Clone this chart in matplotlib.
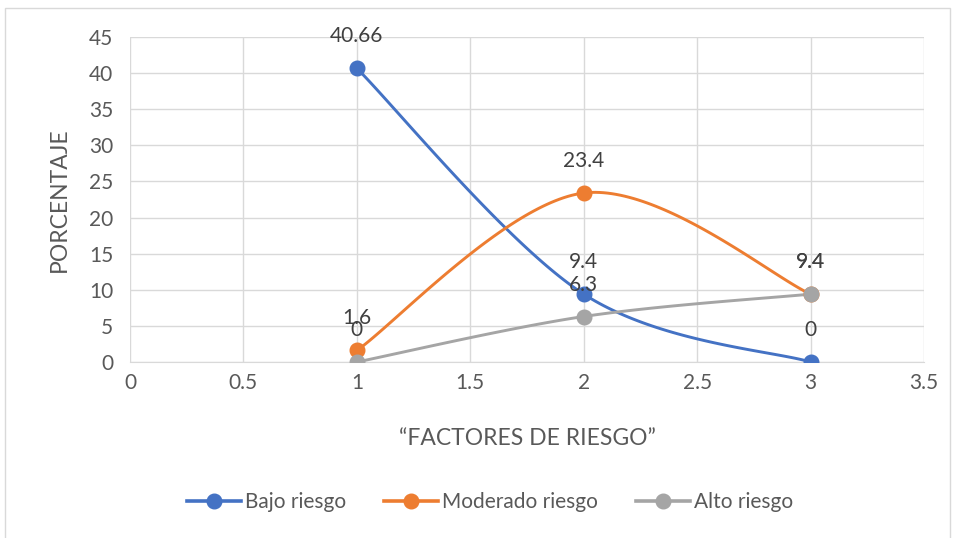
import matplotlib
matplotlib.use("Agg")
import matplotlib.pyplot as plt
import numpy as np
from matplotlib.patches import Rectangle

x_vals = [1, 2, 3]
bajo = [40.66, 9.4, 0]
moderado = [1.6, 23.4, 9.4]
alto = [0, 6.3, 9.4]
series_names = ["Bajo riesgo", "Moderado riesgo", "Alto riesgo"]
colors = ["#4472C4", "#ED7D31", "#A5A5A5"]
x_ticks = [0, 0.5, 1, 1.5, 2, 2.5, 3, 3.5]
y_ticks = [0, 5, 10, 15, 20, 25, 30, 35, 40, 45]

plt.rcParams['font.family'] = ['Lato', 'DejaVu Sans']


def smooth(xs, ys, n=60):
    pts = np.column_stack([xs, ys]).astype(float)
    out = []
    for i in range(len(pts) - 1):
        p0 = pts[i - 1] if i > 0 else pts[i]
        p1 = pts[i]
        p2 = pts[i + 1]
        p3 = pts[i + 2] if i + 2 < len(pts) else pts[i + 1]
        c1 = p1 + (p2 - p0) / 6.0
        c2 = p2 - (p3 - p1) / 6.0
        t = np.linspace(0, 1, n)[:, None]
        seg = ((1 - t) ** 3) * p1 + 3 * ((1 - t) ** 2) * t * c1 + 3 * (1 - t) * t ** 2 * c2 + t ** 3 * p2
        out.append(seg if i == 0 else seg[1:])
    seg = np.vstack(out)
    return seg[:, 0], seg[:, 1]


fig = plt.figure(figsize=(9.58, 5.38), dpi=100)
fig.patches.append(Rectangle((5 / 958, -0.01), 945 / 958, 1 - 8 / 538 + 0.01,
                             transform=fig.transFigure, fill=False,
                             edgecolor="#D9D9D9", linewidth=1))
ax = fig.add_axes([130 / 958, 1 - 362 / 538, (924 - 130) / 958, (362 - 37) / 538])

LW = 2.1
MS = 10.5
FS = 15

for ys, name, c in zip([bajo, moderado, alto], series_names, colors):
    sx, sy = smooth(x_vals, ys)
    ax.plot(sx, sy, color=c, linewidth=LW, zorder=3)
    ax.plot(x_vals, ys, linestyle="none", marker="o", markersize=MS,
            color=c, zorder=4, label=name)

for ys, c in zip([bajo, moderado, alto], colors):
    for xv, yv in zip(x_vals, ys):
        lbl = f"{yv:g}"
        ax.annotate(lbl, (xv, yv), xytext=(0, 23), textcoords="offset points",
                    ha="center", va="center", fontsize=FS, color="#404040",
                    zorder=5)

ax.set_xlim(0, 3.5)
ax.set_ylim(0, 45)
ax.set_xticks(x_ticks)
ax.set_xticklabels([f"{v:g}" for v in x_ticks])
ax.set_yticks(y_ticks)
ax.grid(True, color="#D9D9D9", linewidth=1)
ax.set_axisbelow(True)
for s in ["top", "right", "left"]:
    ax.spines[s].set_visible(False)
ax.spines["bottom"].set_color("#D9D9D9")
ax.tick_params(length=0, labelsize=FS, colors="#595959", pad=8)
ax.tick_params(axis="y", pad=12)
ax.set_xlabel("“FACTORES DE RIESGO”", fontsize=16.5, color="#595959", labelpad=25)
ax.set_ylabel("PORCENTAJE", fontsize=16.5, color="#595959", labelpad=14)

handles = []
for name, c in zip(series_names, colors):
    h, = ax.plot([], [], color=c, linewidth=LW + 0.5, marker="o", markersize=MS, label=name)
    handles.append(h)
fig.legend(handles=handles, loc="center", bbox_to_anchor=(490 / 958, 1 - 502 / 538),
           ncol=3, frameon=False, fontsize=FS, labelcolor="#595959",
           handlelength=2.6, columnspacing=1.8, handletextpad=0.2)

fig.savefig("out.png", dpi=100)
